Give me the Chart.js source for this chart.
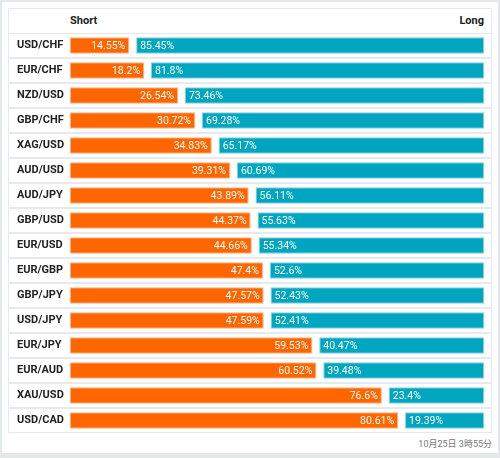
<!DOCTYPE html>
<html>
<head>
<meta charset="utf-8">
<script src="https://cdn.jsdelivr.net/npm/chart.js@4.4.0/dist/chart.umd.min.js"></script>
<style>
  body { margin: 0; background: #e3e9eb; font-family: Roboto, "Noto Sans CJK JP", sans-serif; }
  .panel { position: absolute; left: 2px; top: 2px; width: 496px; height: 451px; background: #fff; }
  .table { position: absolute; left: 8px; top: 8px; width: 484px; height: 425px; box-shadow: inset 0 0 0 1px #e6eaec; }
  .head { position: absolute; top: 0; height: 25px; line-height: 25px; font-weight: bold; font-size: 11px; color: #222; }
  .chartBox { position: absolute; left: 0; top: 25px; width: 484px; height: 400px; }
  .chartBox canvas { display: block; }
  .stamp { position: absolute; right: 8px; top: 437px; font-size: 9px; color: #777; }
</style>
</head>
<body>
<div class="panel"></div>
<div class="table">
  <div class="head" style="left:62px">Short</div>
  <div class="head" style="right:8px">Long</div>
  <div class="chartBox"><canvas id="myChart" width="484" height="400"></canvas></div>
</div>
<div class="stamp">10月25日 3時55分</div>
<script>
const pairs = ['USD/CHF','EUR/CHF','NZD/USD','GBP/CHF','XAG/USD','AUD/USD','AUD/JPY','GBP/USD','EUR/USD','EUR/GBP','GBP/JPY','USD/JPY','EUR/JPY','EUR/AUD','XAU/USD','USD/CAD']
const shortPct = [14.55,18.2,26.54,30.72,34.83,39.31,43.89,44.37,44.66,47.4,47.57,47.59,59.53,60.52,76.6,80.61]
const longPct = [85.45,81.8,73.46,69.28,65.17,60.69,56.11,55.63,55.34,52.6,52.43,52.41,40.47,39.48,23.4,19.39]
const gapSize = 1.7

const ctx = document.getElementById('myChart').getContext('2d')

// row lines of the table
const rowLines = {
  id: 'rowLines',
  beforeDraw(chart){
    const y = chart.scales.y
    const c = chart.ctx
    const h = y.height / pairs.length
    c.save()
    c.strokeStyle = '#e6eaec'
    c.lineWidth = 2
    for(let i = 0; i <= pairs.length; i++){
      let py = y.top + i * h
      c.beginPath()
      c.moveTo(0, py)
      c.lineTo(chart.width, py)
      c.stroke()
    }
    c.restore()
  }
}

// percent texts inside bars
const barText = {
  id: 'barText',
  afterDatasetsDraw(chart){
    const c = chart.ctx
    c.save()
    c.font = '10.5px Roboto'
    c.textBaseline = 'middle'
    c.fillStyle = '#ffffff'
    chart.getDatasetMeta(0).data.forEach((el, i) => {
      c.textAlign = 'right'
      c.fillText(shortPct[i] + '%', el.x - 4, el.y + 1)
    })
    chart.getDatasetMeta(2).data.forEach((el, i) => {
      c.textAlign = 'left'
      c.fillText(longPct[i] + '%', el.base + 4, el.y + 1)
    })
    c.restore()
  }
}

const myChart = new Chart(ctx, {
  type: 'bar',
  data: {
    labels: pairs,
    datasets: [
      { label: 'Short', data: shortPct, backgroundColor: '#ff6600', borderColor: '#ffb380', borderWidth: 1, borderSkipped: false },
      { label: 'gap', data: pairs.map(() => gapSize), backgroundColor: 'rgba(0,0,0,0)' },
      { label: 'Long', data: longPct, backgroundColor: '#00a6c0', borderColor: '#80d2df', borderWidth: 1, borderSkipped: false }
    ]
  },
  options: {
    indexAxis: 'y',
    responsive: false,
    animation: false,
    categoryPercentage: 1,
    barPercentage: 0.66,
    layout: { autoPadding: false, padding: { left: 9, right: 8, top: 0, bottom: 0 } },
    plugins: { legend: { display: false }, tooltip: { enabled: false } },
    scales: {
      x: { stacked: true, min: 0, max: 100 + gapSize, display: false },
      y: {
        stacked: true,
        grid: { display: false },
        border: { display: false },
        ticks: { crossAlign: 'far', color: '#222', font: { family: 'Roboto', size: 11, weight: 'bold' } },
        afterFit(scale){ scale.width = 53; scale.paddingTop = 0; scale.paddingBottom = 0 }
      }
    }
  },
  plugins: [rowLines, barText]
})
</script>
</body>
</html>
